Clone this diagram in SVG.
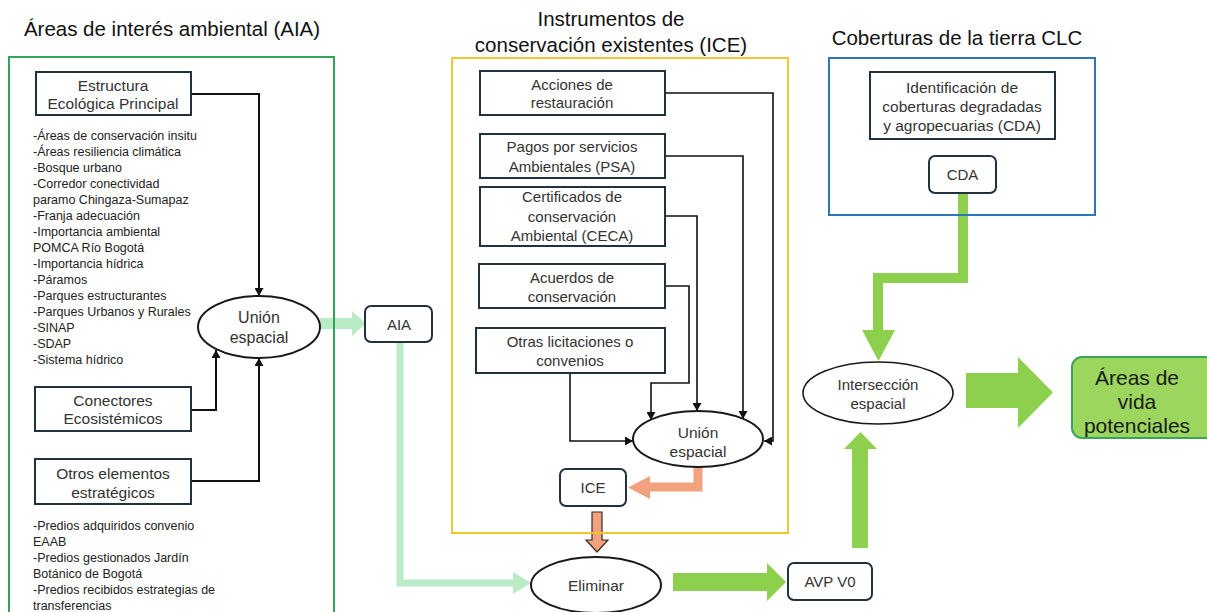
<svg xmlns="http://www.w3.org/2000/svg" width="1207" height="612" viewBox="0 0 1207 612">
<defs>
<style>
text{font-family:"Liberation Sans",Arial,sans-serif;fill:#333;}
.title{font-size:20.5px;fill:#111;text-anchor:middle;}
.lbl{font-size:15.5px;text-anchor:middle;}
.mid{font-size:15px;text-anchor:middle;}
.sm{font-size:15px;text-anchor:middle;}
.list{font-size:12.5px;fill:#222;}
.box{fill:#fff;stroke:#22313f;stroke-width:2;}
.rbox{fill:#fff;stroke:#22313f;stroke-width:2;}
.ell{fill:#fff;stroke:#1a1a1a;stroke-width:2;}
.thin{fill:none;stroke:#111;stroke-width:1.6;marker-end:url(#ah);}
.thick{fill:none;stroke:#111;stroke-width:2;marker-end:url(#ah);}
.lg{fill:#b9ecc6;}
.g{fill:#8cd04d;}
.or{fill:#f2a27e;}
.big{font-size:21px;fill:#1a1a1a;text-anchor:middle;}
</style>
<marker id="ah" markerUnits="userSpaceOnUse" markerWidth="9" markerHeight="9" refX="8" refY="4.5" orient="auto">
<path d="M0,0 L8,4.5 L0,9 z" fill="#111"/>
</marker>
</defs>
<rect width="1207" height="612" fill="#fff"/>

<g id="titles">
<text class="title" x="172" y="36">Áreas de interés ambiental (AIA)</text>
<text class="title" x="611" y="26">Instrumentos de</text>
<text class="title" x="611" y="52">conservación existentes (ICE)</text>
<text class="title" x="957" y="45">Coberturas de la tierra CLC</text>
</g>

<g id="connectors">
<path class="thick" d="M191,94 H259 V296"/>
<path class="thick" d="M191,410 H216 V350"/>
<path class="thick" d="M191,481 H259 V358"/>
<path class="thin" d="M665,93 H773 V441 H764"/>
<path class="thin" d="M665,156 H743 V419"/>
<path class="thin" d="M665,216 H697 V411"/>
<path class="thin" d="M665,286 H689 V383 H651 V420"/>
<path class="thin" d="M570,373 V441 H633"/>
<rect class="lg" x="320" y="318" width="33" height="11"/>
<polygon class="lg" points="352,311 366,323.5 352,336"/>
<path d="M400,342 V583 H514" fill="none" stroke="#b9ecc6" stroke-width="7"/>
<polygon class="lg" points="513,572 531,583 513,594"/>
<path d="M698,467 V487 H648" fill="none" stroke="#f2a27e" stroke-width="9"/>
<polygon class="or" points="650,476 628,487.5 650,499"/>
<polygon class="or" points="592,512 602,512 602,540 608,540 597,552 586,540 592,540" stroke="#3a2a22" stroke-width="1.2"/>
<rect class="g" x="673" y="573" width="95" height="18"/>
<polygon class="g" points="767,563 786,582 767,601"/>
<rect class="g" x="852" y="448" width="16" height="100"/>
<polygon class="g" points="844,449 877,449 860.5,432"/>
<path d="M963,193 V278 H878 V331" fill="none" stroke="#8cd04d" stroke-width="10"/>
<polygon class="g" points="862,330 895,330 878.5,361"/>
<rect class="g" x="966" y="373" width="53" height="35"/>
<polygon class="g" points="1018,357 1053,392.5 1018,428"/>
</g>

<g id="containers" fill="none">
<rect x="9" y="57" width="325" height="570" stroke="#33a35a" stroke-width="2"/>
<rect x="452" y="58" width="336" height="475" stroke="#f2c432" stroke-width="2"/>
<rect x="829" y="58" width="266" height="157" stroke="#2e75b6" stroke-width="2"/>
</g>

<g id="eep">
<rect class="box" x="36" y="72" width="155" height="43"/>
<text class="lbl" x="113" y="91">Estructura</text>
<text class="lbl" x="113" y="109">Ecológica Principal</text>
</g>
<g id="eep-list">
<text class="list" x="33" y="140">-Áreas de conservación insitu</text>
<text class="list" x="33" y="156">-Áreas resiliencia climática</text>
<text class="list" x="33" y="172">-Bosque urbano</text>
<text class="list" x="33" y="188">-Corredor conectividad</text>
<text class="list" x="33" y="204">paramo Chingaza-Sumapaz</text>
<text class="list" x="33" y="220">-Franja adecuación</text>
<text class="list" x="33" y="236">-Importancia ambiental</text>
<text class="list" x="33" y="252">POMCA Río Bogotá</text>
<text class="list" x="33" y="268">-Importancia hídrica</text>
<text class="list" x="33" y="284">-Páramos</text>
<text class="list" x="33" y="300">-Parques estructurantes</text>
<text class="list" x="33" y="316">-Parques Urbanos y Rurales</text>
<text class="list" x="33" y="332">-SINAP</text>
<text class="list" x="33" y="348">-SDAP</text>
<text class="list" x="33" y="364">-Sistema hídrico</text>
</g>
<g id="conectores">
<rect class="box" x="35" y="387" width="156" height="44"/>
<text class="lbl" x="113" y="406">Conectores</text>
<text class="lbl" x="113" y="424">Ecosistémicos</text>
</g>
<g id="otros">
<rect class="box" x="35" y="459" width="156" height="45"/>
<text class="lbl" x="113" y="479">Otros elementos</text>
<text class="lbl" x="113" y="498">estratégicos</text>
</g>
<g id="otros-list">
<text class="list" x="33" y="530">-Predios adquiridos convenio</text>
<text class="list" x="33" y="546">EAAB</text>
<text class="list" x="33" y="562">-Predios gestionados Jardín</text>
<text class="list" x="33" y="578">Botánico de Bogotá</text>
<text class="list" x="33" y="594">-Predios recibidos estrategias de</text>
<text class="list" x="33" y="610">transferencias</text>
</g>
<g id="union-aia">
<ellipse class="ell" cx="259" cy="327" rx="61" ry="31"/>
<text class="lbl" x="259" y="323" style="font-size:16px">Unión</text>
<text class="lbl" x="259" y="343" style="font-size:16px">espacial</text>
</g>
<g id="aia">
<rect class="rbox" x="365" y="306" width="67" height="36" rx="6"/>
<text class="sm" x="399" y="330">AIA</text>
</g>

<g id="acciones">
<rect class="box" x="480" y="71" width="185" height="44"/>
<text class="mid" x="572" y="90">Acciones de</text>
<text class="mid" x="572" y="108">restauración</text>
</g>
<g id="psa">
<rect class="box" x="480" y="134" width="185" height="44"/>
<text class="mid" x="572" y="152">Pagos por servicios</text>
<text class="mid" x="572" y="172">Ambientales (PSA)</text>
</g>
<g id="ceca">
<rect class="box" x="480" y="187" width="185" height="59"/>
<text class="mid" x="572" y="202">Certificados de</text>
<text class="mid" x="572" y="222">conservación</text>
<text class="mid" x="572" y="241">Ambiental (CECA)</text>
</g>
<g id="acuerdos">
<rect class="box" x="479" y="264" width="186" height="44"/>
<text class="mid" x="572" y="283">Acuerdos de</text>
<text class="mid" x="572" y="302">conservación</text>
</g>
<g id="otras">
<rect class="box" x="476" y="328" width="189" height="45"/>
<text class="mid" x="570" y="347">Otras licitaciones o</text>
<text class="mid" x="570" y="366">convenios</text>
</g>
<g id="union-ice">
<ellipse class="ell" cx="698" cy="439" rx="65" ry="28"/>
<text class="mid" x="698" y="438" style="font-size:15.5px">Unión</text>
<text class="mid" x="698" y="457" style="font-size:15.5px">espacial</text>
</g>
<g id="ice">
<rect class="rbox" x="560" y="469" width="66" height="37" rx="6"/>
<text class="sm" x="593" y="493">ICE</text>
</g>
<g id="eliminar">
<ellipse class="ell" cx="596" cy="585" rx="65" ry="28"/>
<text class="mid" x="596" y="591" style="font-size:15.5px">Eliminar</text>
</g>
<g id="avp">
<rect class="rbox" x="788" y="563" width="84" height="37" rx="6"/>
<text class="sm" x="830" y="587">AVP V0</text>
</g>

<g id="identificacion">
<rect class="box" x="870" y="72" width="185" height="67"/>
<text class="mid" x="962" y="93" style="font-size:15.5px">Identificación de</text>
<text class="mid" x="962" y="112" style="font-size:15.5px">coberturas degradadas</text>
<text class="mid" x="962" y="131" style="font-size:15.5px">y agropecuarias (CDA)</text>
</g>
<g id="cda">
<rect class="rbox" x="929" y="156" width="67" height="37" rx="6"/>
<text class="sm" x="962.5" y="180">CDA</text>
</g>
<g id="interseccion">
<ellipse class="ell" cx="878" cy="393" rx="75" ry="31" style="stroke-width:1.6"/>
<text class="mid" x="878" y="390">Intersección</text>
<text class="mid" x="878" y="409">espacial</text>
</g>
<g id="areas-vida">
<rect x="1072" y="357" width="145" height="81" rx="10" fill="#9cd65e" stroke="#3aa655" stroke-width="2"/>
<text class="big" x="1137" y="385">Áreas de</text>
<text class="big" x="1137" y="409">vida</text>
<text class="big" x="1137" y="433">potenciales</text>
</g>
</svg>
